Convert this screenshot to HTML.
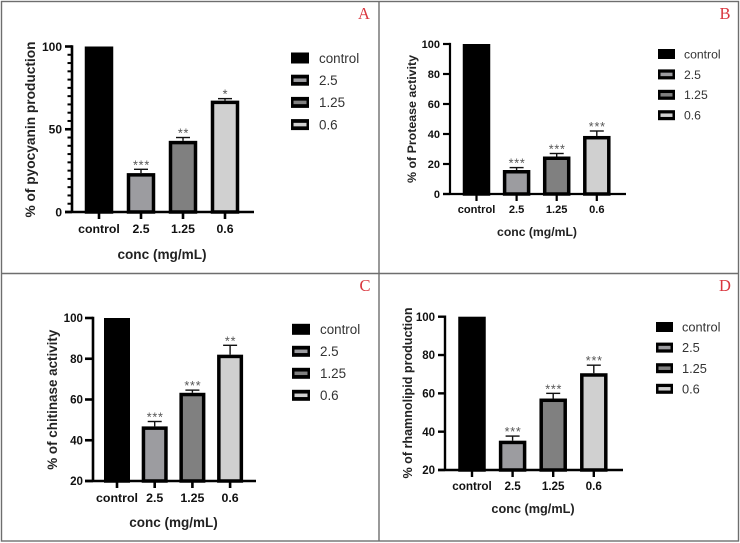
<!DOCTYPE html>
<html lang="en">
<head>
<meta charset="utf-8">
<title>Bar chart panels A to D</title>
<style>
html,body{margin:0;padding:0;background:#fff;}
svg{display:block;font-family:"Liberation Sans",Arial,sans-serif;filter:blur(0.35px);}
</style>
</head>
<body>
<svg id="figure" width="740" height="543" viewBox="0 0 740 543" xmlns="http://www.w3.org/2000/svg">
  <g stroke="#6e6e6e" stroke-width="1.4" fill="none">
    <rect x="1.5" y="1.5" width="737" height="539.5"></rect>
    <line x1="379" y1="1" x2="379" y2="541"></line>
    <line x1="1" y1="273.5" x2="739" y2="273.5"></line>
  </g>
</svg>
<script>
const categories = ['control', '2.5', '1.25', '0.6'];
const seriesFills = ['#000000', '#9c9ca0', '#808080', '#d0d0d0'];

const panelAValues = [100, 23.5, 43, 67.3];
const panelAErrors = [0, 2.3, 2, 1.2];
const panelAStars = ['', '***', '**', '*'];
const panelATicks = [0, 50, 100];

const panelBValues = [100, 16, 25, 38.7];
const panelBErrors = [0, 1.6, 2, 3.3];
const panelBStars = ['', '***', '***', '***'];
const panelBTicks = [0, 20, 40, 60, 80, 100];

const panelCValues = [100, 46.8, 63.3, 82];
const panelCErrors = [0, 2.4, 1.3, 4.6];
const panelCStars = ['', '***', '***', '**'];
const panelCTicks = [20, 40, 60, 80, 100];

const panelDValues = [100, 35.3, 57.3, 70.5];
const panelDErrors = [0, 2.4, 2.7, 4.2];
const panelDStars = ['', '***', '***', '***'];
const panelDTicks = [20, 40, 60, 80, 100];

const panels = [
  { id: 'a', letter: 'A', lx: 364, ly: 19, values: panelAValues, errors: panelAErrors, stars: panelAStars, ticks: panelATicks,
    minorStep: 5, yTitle: '% of pyocyanin production', yTitleX: 35, yTitleY: 129.5, yTitleLen: 176,
    axisX: 72, yTop: 46.5, yBot: 212, baseL: 65, baseR: 254, c0: 99, step: 42, barW: 28.5, sw: 2.6,
    tickFs: 12, catFs: 12.3, catY: 233, titleFs: 13.6, titleY: 259, titleCx: 162,
    legX: 291, legW: 18, legH: 11, legTextX: 319, legFs: 13.4, legY0: 58, legStep: 22.2 },
  { id: 'b', letter: 'B', lx: 725, ly: 19, values: panelBValues, errors: panelBErrors, stars: panelBStars, ticks: panelBTicks,
    minorStep: 0, yTitle: '% of Protease activity', yTitleX: 416, yTitleY: 119, yTitleLen: 128,
    axisX: 450, yTop: 44, yBot: 194, baseL: 443, baseR: 626, c0: 476.5, step: 40.1, barW: 27.5, sw: 2.2,
    tickFs: 11, catFs: 11.1, catY: 213, titleFs: 12.2, titleY: 236, titleCx: 537,
    legX: 658, legW: 17, legH: 10, legTextX: 684, legFs: 12.2, legY0: 54, legStep: 20.4 },
  { id: 'c', letter: 'C', lx: 365, ly: 291, values: panelCValues, errors: panelCErrors, stars: panelCStars, ticks: panelCTicks,
    minorStep: 0, yTitle: '% of chitinase activity', yTitleX: 57, yTitleY: 399.7, yTitleLen: 140,
    axisX: 93, yTop: 318, yBot: 481, baseL: 85, baseR: 256, c0: 117, step: 37.7, barW: 26, sw: 2.6,
    tickFs: 11.6, catFs: 12.4, catY: 502, titleFs: 13.5, titleY: 527, titleCx: 173.5,
    legX: 292, legW: 18, legH: 11, legTextX: 320, legFs: 13.4, legY0: 329.3, legStep: 22 },
  { id: 'd', letter: 'D', lx: 725, ly: 291, values: panelDValues, errors: panelDErrors, stars: panelDStars, ticks: panelDTicks,
    minorStep: 0, yTitle: '% of rhamnolipid production', yTitleX: 412, yTitleY: 393, yTitleLen: 171,
    axisX: 445, yTop: 316.7, yBot: 470, baseL: 438, baseR: 623, c0: 472, step: 40.6, barW: 27.5, sw: 2.4,
    tickFs: 11.5, catFs: 11.7, catY: 490, titleFs: 12.7, titleY: 513, titleCx: 533,
    legX: 656, legW: 17, legH: 10, legTextX: 682, legFs: 12.8, legY0: 327, legStep: 20.6 }
];

const SVGNS = 'http://www.w3.org/2000/svg';
const figure = document.getElementById('figure');

function make(tag, attrs, parent, text) {
  const node = document.createElementNS(SVGNS, tag);
  for (const key in attrs) node.setAttribute(key, attrs[key]);
  if (text !== undefined) node.textContent = text;
  parent.appendChild(node);
  return node;
}

function drawPanel(p) {
  const yMin = p.ticks[0];
  const yMax = p.ticks[p.ticks.length - 1];
  const yScale = function (v) { return p.yBot - (v - yMin) / (yMax - yMin) * (p.yBot - p.yTop); };
  const xScale = function (i) { return p.c0 + i * p.step; };

  const g = make('g', {}, figure);
  
  

  const letter = make('text', { x: p.lx, y: p.ly, 'text-anchor': 'middle', fill: '#d9363e', 'font-size': 16.5, 'font-family': '"Liberation Serif",serif' }, g, p.letter);
  
  

  p.values.forEach(function (v, i) {
    const cx = xScale(i);
    const top = yScale(v);
    if (p.errors[i] > 0) {
      const errTop = yScale(v + p.errors[i]);
      const stem = make('line', { x1: cx, x2: cx, y1: top, y2: errTop, stroke: '#111', 'stroke-width': 1.4 }, g);
      
      
      const cap = make('line', { x1: cx - 7, x2: cx + 7, y1: errTop, y2: errTop, stroke: '#111', 'stroke-width': 1.4 }, g);
      
      
      const star = make('text', { x: cx + 0.5, y: errTop, 'text-anchor': 'middle', 'font-size': 12.5, 'letter-spacing': 0.8, fill: '#555' }, g, p.stars[i]);
      
      
    }
    const inset = 1.75;
    const bar = make('rect', {
      x: cx - p.barW / 2 + inset, y: top + inset,
      width: p.barW - 2 * inset, height: Math.max(0, p.yBot - top - inset),
      fill: seriesFills[i], stroke: '#000', 'stroke-width': 3.5
    }, g);
    
    

    const xTick = make('line', { x1: cx, x2: cx, y1: p.yBot, y2: p.yBot + 7, stroke: '#000', 'stroke-width': p.sw }, g);
    
    
    const xLabel = make('text', { x: cx, y: p.catY, 'text-anchor': 'middle', 'font-size': p.catFs, 'font-weight': 700, fill: '#111' }, g, categories[i]);
    
    
  });

  const yAxis = make('line', { x1: p.axisX, x2: p.axisX, y1: p.yTop - p.sw / 2, y2: p.yBot, stroke: '#000', 'stroke-width': p.sw }, g);
  
  
  const xAxis = make('line', { x1: p.baseL, x2: p.baseR, y1: p.yBot, y2: p.yBot, stroke: '#000', 'stroke-width': p.sw }, g);
  
  

  if (p.minorStep > 0) {
    for (let v = yMin; v <= yMax; v += p.minorStep) {
      if (p.ticks.indexOf(v) >= 0) continue;
      const minor = make('line', { x1: p.axisX - 4.5, x2: p.axisX, y1: yScale(v), y2: yScale(v), stroke: '#000', 'stroke-width': 2 }, g);
      
      
    }
  }

  p.ticks.forEach(function (t) {
    const y = yScale(t);
    const tick = make('line', { x1: p.baseL, x2: p.axisX, y1: y, y2: y, stroke: '#000', 'stroke-width': p.sw }, g);
    
    
    const label = make('text', { x: p.axisX - 10, y: y + p.tickFs * 0.36, 'text-anchor': 'end', 'font-size': p.tickFs, 'font-weight': 700, fill: '#111' }, g, String(t));
    
    
  });

  const yTitle = make('text', {
    x: 0, y: 0, 'text-anchor': 'middle', 'font-size': p.titleFs, 'font-weight': 700, fill: '#222',
    textLength: p.yTitleLen, lengthAdjust: 'spacingAndGlyphs',
    transform: 'translate(' + p.yTitleX + ',' + p.yTitleY + ') rotate(-90)'
  }, g, p.yTitle);
  
  

  const xTitle = make('text', { x: p.titleCx, y: p.titleY, 'text-anchor': 'middle', 'font-size': p.titleFs, 'font-weight': 700, fill: '#222' }, g, 'conc (mg/mL)');
  
  

  categories.forEach(function (c, i) {
    const cy = p.legY0 + i * p.legStep;
    const swatch = make('rect', { x: p.legX, y: cy - p.legH / 2, width: p.legW, height: p.legH, fill: '#000' }, g);
    
    
    if (i > 0) {
      const swatchFill = make('rect', { x: p.legX + 2.5, y: cy - 1.75, width: p.legW - 5, height: 3.5, fill: seriesFills[i] }, g);
      
      
    }
    const entry = make('text', { x: p.legTextX, y: cy + p.legFs * 0.36, 'font-size': p.legFs, fill: '#333' }, g, c);
    
    
  });
}

panels.forEach(drawPanel);
</script>
</body>
</html>
